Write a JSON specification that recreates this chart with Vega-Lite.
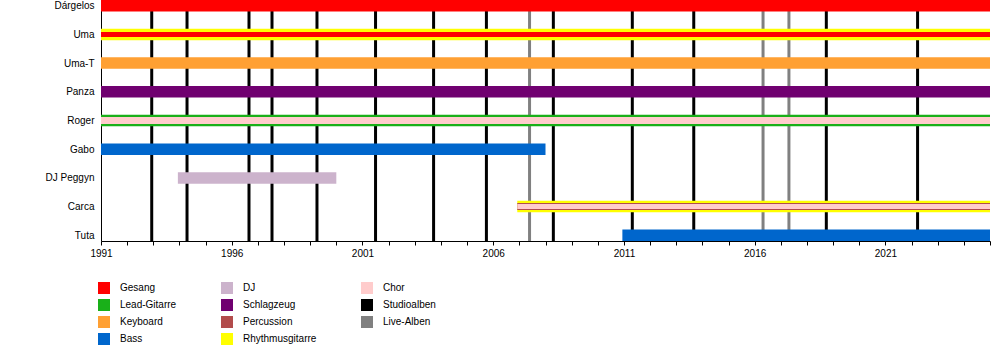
{
  "$schema": "https://vega.github.io/schema/vega-lite/v6.json",
  "width": 889,
  "height": 241,
  "autosize": {"type": "none"},
  "padding": {"left": 101, "top": 0, "right": 10, "bottom": 119},
  "background": "white",
  "config": {
    "font": "Liberation Sans",
    "view": {"stroke": null},
    "axis": {"labelFont": "Liberation Sans", "labelFontSize": 10, "labelColor": "black", "domainColor": "black", "tickColor": "black", "grid": false, "labelOverlap": false, "labelBound": false},
    "axisX": {"labelOverlap": false}
  },
  "datasets": {
    "alben": [
      {"datum": 1992.94, "rolle": "Studioalben"},
      {"datum": 1994.29, "rolle": "Studioalben"},
      {"datum": 1996.66, "rolle": "Studioalben"},
      {"datum": 1997.54, "rolle": "Studioalben"},
      {"datum": 1999.26, "rolle": "Studioalben"},
      {"datum": 2001.5, "rolle": "Studioalben"},
      {"datum": 2003.72, "rolle": "Studioalben"},
      {"datum": 2005.74, "rolle": "Studioalben"},
      {"datum": 2007.39, "rolle": "Live-Alben"},
      {"datum": 2008.3, "rolle": "Studioalben"},
      {"datum": 2011.32, "rolle": "Studioalben"},
      {"datum": 2013.67, "rolle": "Studioalben"},
      {"datum": 2016.32, "rolle": "Live-Alben"},
      {"datum": 2017.31, "rolle": "Live-Alben"},
      {"datum": 2018.74, "rolle": "Studioalben"},
      {"datum": 2022.23, "rolle": "Studioalben"}
    ],
    "mitglieder": [
      {"name": "Dárgelos", "rolle": "Gesang", "von": 1991, "bis": 2025, "ebene": 1},
      {"name": "Uma", "rolle": "Rhythmusgitarre", "von": 1991, "bis": 2025, "ebene": 1},
      {"name": "Uma-T", "rolle": "Keyboard", "von": 1991, "bis": 2025, "ebene": 1},
      {"name": "Panza", "rolle": "Schlagzeug", "von": 1991, "bis": 2025, "ebene": 1},
      {"name": "Roger", "rolle": "Lead-Gitarre", "von": 1991, "bis": 2025, "ebene": 1},
      {"name": "Gabo", "rolle": "Bass", "von": 1991, "bis": 2008, "ebene": 1},
      {"name": "DJ Peggyn", "rolle": "DJ", "von": 1993.94, "bis": 2000, "ebene": 1},
      {"name": "Carca", "rolle": "Rhythmusgitarre", "von": 2006.92, "bis": 2025, "ebene": 1},
      {"name": "Tuta", "rolle": "Bass", "von": 2010.94, "bis": 2025, "ebene": 1},
      {"name": "Roger", "rolle": "Chor", "von": 1991, "bis": 2025, "ebene": 2},
      {"name": "Carca", "rolle": "Percussion", "von": 2006.92, "bis": 2025, "ebene": 2},
      {"name": "Uma", "rolle": "Gesang", "von": 1991, "bis": 2025, "ebene": 3},
      {"name": "Carca", "rolle": "Chor", "von": 2006.92, "bis": 2025, "ebene": 3}
    ]
  },
  "encoding": {
    "x": {
      "field": "von",
      "type": "quantitative",
      "scale": {"domain": [1991, 2025], "nice": false, "zero": false},
      "axis": {
        "title": null,
        "values": [1991,1992,1993,1994,1995,1996,1997,1998,1999,2000,2001,2002,2003,2004,2005,2006,2007,2008,2009,2010,2011,2012,2013,2014,2015,2016,2017,2018,2019,2020,2021,2022,2023,2024,2025],
        "labelExpr": "(datum.value - 1991) % 5 === 0 && datum.value < 2025 ? datum.value : ''",
        "format": "d",
        "tickSize": 4,
        "labelPadding": 3,
        "labelFlush": false,
        "labelOverlap": false
      }
    },
    "y": {
      "field": "name",
      "type": "nominal",
      "sort": ["Dárgelos", "Uma", "Uma-T", "Panza", "Roger", "Gabo", "DJ Peggyn", "Carca", "Tuta"],
      "scale": {"type": "point", "padding": 0.2},
      "axis": {"title": null, "ticks": false, "labelPadding": 7, "domainColor": "black"}
    },
    "color": {
      "field": "rolle",
      "type": "nominal",
      "scale": {
        "domain": ["Gesang", "Lead-Gitarre", "Keyboard", "Bass", "DJ", "Schlagzeug", "Percussion", "Rhythmusgitarre", "Chor", "Studioalben", "Live-Alben"],
        "range": ["#ff0000", "#19b019", "#ffa033", "#0066cc", "#ccb3cc", "#700070", "#b24c4c", "#ffff00", "#ffcccc", "#000000", "#808080"]
      },
      "legend": {
        "orient": "none",
        "legendX": -3,
        "legendY": 282,
        "columns": 3,
        "columnPadding": 44,
        "rowPadding": 5,
        "symbolType": "square",
        "symbolSize": 144,
        "symbolStrokeWidth": 0,
        "labelFont": "Liberation Sans",
        "labelFontSize": 10,
        "labelColor": "black",
        "labelOffset": 10,
        "title": null,
        "encode": {"symbols": {"update": {"fill": {"scale": "color", "field": "value"}, "fillOpacity": {"value": 1}, "opacity": {"value": 1}}}}
      }
    }
  },
  "layer": [
    {
      "data": {"name": "alben"},
      "mark": {"type": "rule", "strokeWidth": 3},
      "encoding": {
        "x": {"field": "datum", "type": "quantitative"},
        "y": null
      }
    },
    {
      "data": {"name": "mitglieder"},
      "transform": [{"filter": "datum.ebene === 1"}],
      "mark": {"type": "rule", "strokeCap": "butt", "strokeWidth": 11.5},
      "encoding": {"x2": {"field": "bis"}}
    },
    {
      "data": {"name": "mitglieder"},
      "transform": [{"filter": "datum.ebene === 2"}],
      "mark": {"type": "rule", "strokeCap": "butt", "strokeWidth": 7},
      "encoding": {"x2": {"field": "bis"}}
    },
    {
      "data": {"name": "mitglieder"},
      "transform": [{"filter": "datum.ebene === 3"}],
      "mark": {"type": "rule", "strokeCap": "butt", "strokeWidth": 5},
      "encoding": {"x2": {"field": "bis"}}
    }
  ]
}
